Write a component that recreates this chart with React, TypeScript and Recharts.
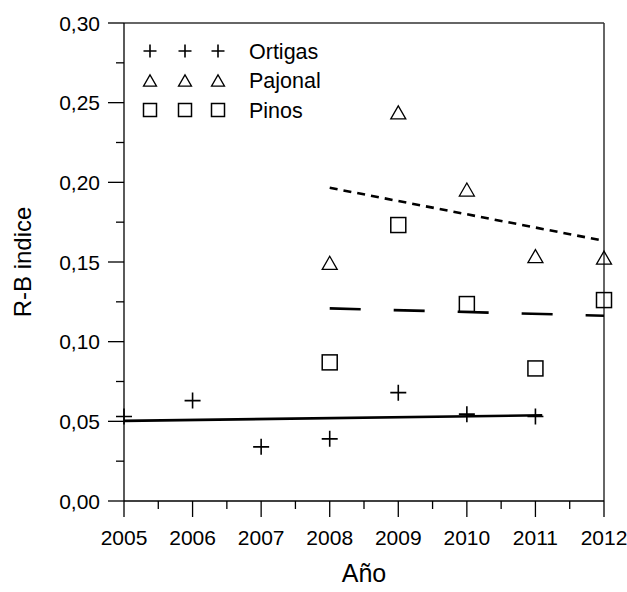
import { Legend, ReferenceLine, Scatter, ScatterChart, XAxis, YAxis } from 'recharts';

// R-B index per year and site, with linear trend lines.

const FONT = '"Liberation Sans", Arial, sans-serif';

const SERIES_NAMES = ['Ortigas', 'Pajonal', 'Pinos'];

const ORTIGAS_YEARS = [2005, 2006, 2007, 2008, 2009, 2010, 2011];
const ORTIGAS = [0.053, 0.063, 0.034, 0.039, 0.068, 0.0545, 0.053];

const PAJONAL_YEARS = [2008, 2009, 2010, 2011, 2012];
const PAJONAL = [0.1495, 0.2439, 0.1955, 0.1537, 0.1527];

const PINOS_YEARS = [2008, 2009, 2010, 2011, 2012];
const PINOS = [0.087, 0.1732, 0.1236, 0.0832, 0.1261];

// trend lines (end points)
const ORTIGAS_TREND_YEARS = [2005, 2011.1];
const ORTIGAS_TREND = [0.0503, 0.0538];
const PAJONAL_TREND_YEARS = [2008, 2012];
const PAJONAL_TREND = [0.1966, 0.1633];
const PINOS_TREND_YEARS = [2008, 2012];
const PINOS_TREND = [0.1209, 0.1163];

// major + minor ticks
const X_TICKS = [2005, 2005.5, 2006, 2006.5, 2007, 2007.5, 2008, 2008.5, 2009, 2009.5, 2010, 2010.5, 2011, 2011.5, 2012];
const Y_TICKS = [0, 0.025, 0.05, 0.075, 0.1, 0.125, 0.15, 0.175, 0.2, 0.225, 0.25, 0.275, 0.3];

const toPoints = (xs: number[], ys: number[]) => xs.map((x, i) => ({ x, y: ys[i] }));

// marker shapes; "mark" avoids clashing with the size/width/height props recharts passes in
const PlusShape = ({ cx, cy, mark = 16 }: any) => (
  <path
    d={`M${cx - mark / 2},${cy}H${cx + mark / 2}M${cx},${cy - mark / 2}V${cy + mark / 2}`}
    stroke="#000"
    strokeWidth={1.6}
    fill="none"
  />
);

const TriangleShape = ({ cx, cy, mark = 15 }: any) => {
  const h = mark * 0.87;
  return (
    <path
      d={`M${cx},${cy - h / 2}L${cx + mark / 2},${cy + h / 2}L${cx - mark / 2},${cy + h / 2}Z`}
      stroke="#000"
      strokeWidth={1.3}
      fill="none"
    />
  );
};

const SquareShape = ({ cx, cy, mark = 15 }: any) => (
  <rect x={cx - mark / 2} y={cy - mark / 2} width={mark} height={mark} stroke="#000" strokeWidth={1.5} fill="none" />
);

const NoShape = () => <g />;

const fmt = (v: number) => v.toFixed(2).replace('.', ',');

const YTick = (props: any) => {
  const { x, y, payload } = props;
  const v = payload.value as number;
  const axisX = x + 24;
  const major = Math.abs(v * 20 - Math.round(v * 20)) < 1e-6;
  return (
    <g>
      <line x1={axisX - (major ? 16 : 8)} x2={axisX} y1={y} y2={y} stroke="#000" strokeWidth={1.3} />
      {major && (
        <text x={x} y={y + 7.5} textAnchor="end" fontSize={21} fontFamily={FONT} fill="#000">
          {fmt(v)}
        </text>
      )}
    </g>
  );
};

const XTick = (props: any) => {
  const { x, y, payload } = props;
  const v = payload.value as number;
  const axisY = y - 44;
  const major = Number.isInteger(v);
  return (
    <g>
      <line x1={x} x2={x} y1={axisY} y2={axisY + (major ? 16 : 8)} stroke="#000" strokeWidth={1.3} />
      {major && (
        <text x={x} y={y} textAnchor="middle" fontSize={21} fontFamily={FONT} fill="#000">
          {v}
        </text>
      )}
    </g>
  );
};

const XTitle = ({ viewBox }: any) => (
  <text x={viewBox.x + viewBox.width / 2} y={viewBox.y + 81} textAnchor="middle" fontSize={25} fontFamily={FONT} fill="#000">
    Año
  </text>
);

const YTitle = ({ viewBox }: any) => {
  const cy = viewBox.y + viewBox.height / 2;
  return (
    <text x={31} y={cy} transform={`rotate(-90, 31, ${cy})`} textAnchor="middle" fontSize={24} fontFamily={FONT} fill="#000">
      R-B indice
    </text>
  );
};

const LEGEND_SHAPES = [PlusShape, TriangleShape, SquareShape];

const LegendBox = () => (
  <svg width={220} height={100} style={{ overflow: 'visible' }}>
    {SERIES_NAMES.map((name, i) => {
      const Shape = LEGEND_SHAPES[i];
      const cy = 21 + i * 29.5;
      return (
        <g key={name}>
          {[15, 50, 83].map((cx) => (
            <Shape key={cx} cx={cx} cy={cy} mark={13} />
          ))}
          <text x={114} y={cy + 7.5} fontSize={21.5} fontFamily={FONT} fill="#000">
            {name}
          </text>
        </g>
      );
    })}
  </svg>
);

export default function App() {
  return (
    <div style={{ position: 'absolute', left: 0, top: 0, background: '#fff' }}>
      <ScatterChart width={627} height={592} margin={{ top: 23, right: 23, bottom: 31, left: 0 }}>
        <XAxis
          type="number"
          dataKey="x"
          domain={[2005, 2012]}
          ticks={X_TICKS}
          interval={0}
          tick={<XTick />}
          tickLine={false}
          tickSize={16}
          tickMargin={28}
          height={60}
          axisLine={{ stroke: '#000', strokeWidth: 1.3 }}
          label={{ content: XTitle }}
        />
        <YAxis
          type="number"
          dataKey="y"
          domain={[0, 0.3]}
          ticks={Y_TICKS}
          interval={0}
          tick={<YTick />}
          tickLine={false}
          tickSize={16}
          tickMargin={8}
          width={124}
          axisLine={{ stroke: '#000', strokeWidth: 1.3 }}
          label={{ content: YTitle }}
        />
        <ReferenceLine y={0.3} stroke="#333" strokeWidth={1.5} />
        <ReferenceLine x={2012} stroke="#333" strokeWidth={1.5} />

        <Scatter
          data={toPoints(ORTIGAS_TREND_YEARS, ORTIGAS_TREND)}
          line={{ stroke: '#000', strokeWidth: 2.6 }}
          shape={NoShape}
          legendType="none"
          isAnimationActive={false}
        />
        <Scatter
          data={toPoints(PAJONAL_TREND_YEARS, PAJONAL_TREND)}
          line={{ stroke: '#000', strokeWidth: 2.6, strokeDasharray: '8 6' }}
          shape={NoShape}
          legendType="none"
          isAnimationActive={false}
        />
        <Scatter
          data={toPoints(PINOS_TREND_YEARS, PINOS_TREND)}
          line={{ stroke: '#000', strokeWidth: 2.6, strokeDasharray: '31 33' }}
          shape={NoShape}
          legendType="none"
          isAnimationActive={false}
        />

        <Scatter name="Ortigas" data={toPoints(ORTIGAS_YEARS, ORTIGAS)} shape={PlusShape} isAnimationActive={false} />
        <Scatter name="Pajonal" data={toPoints(PAJONAL_YEARS, PAJONAL)} shape={TriangleShape} isAnimationActive={false} />
        <Scatter name="Pinos" data={toPoints(PINOS_YEARS, PINOS)} shape={SquareShape} isAnimationActive={false} />

        <Legend
          layout="horizontal"
          verticalAlign="middle"
          align="center"
          content={LegendBox}
          wrapperStyle={{ position: 'absolute', left: 135, top: 30, width: 220, height: 100 }}
        />
      </ScatterChart>
    </div>
  );
}
